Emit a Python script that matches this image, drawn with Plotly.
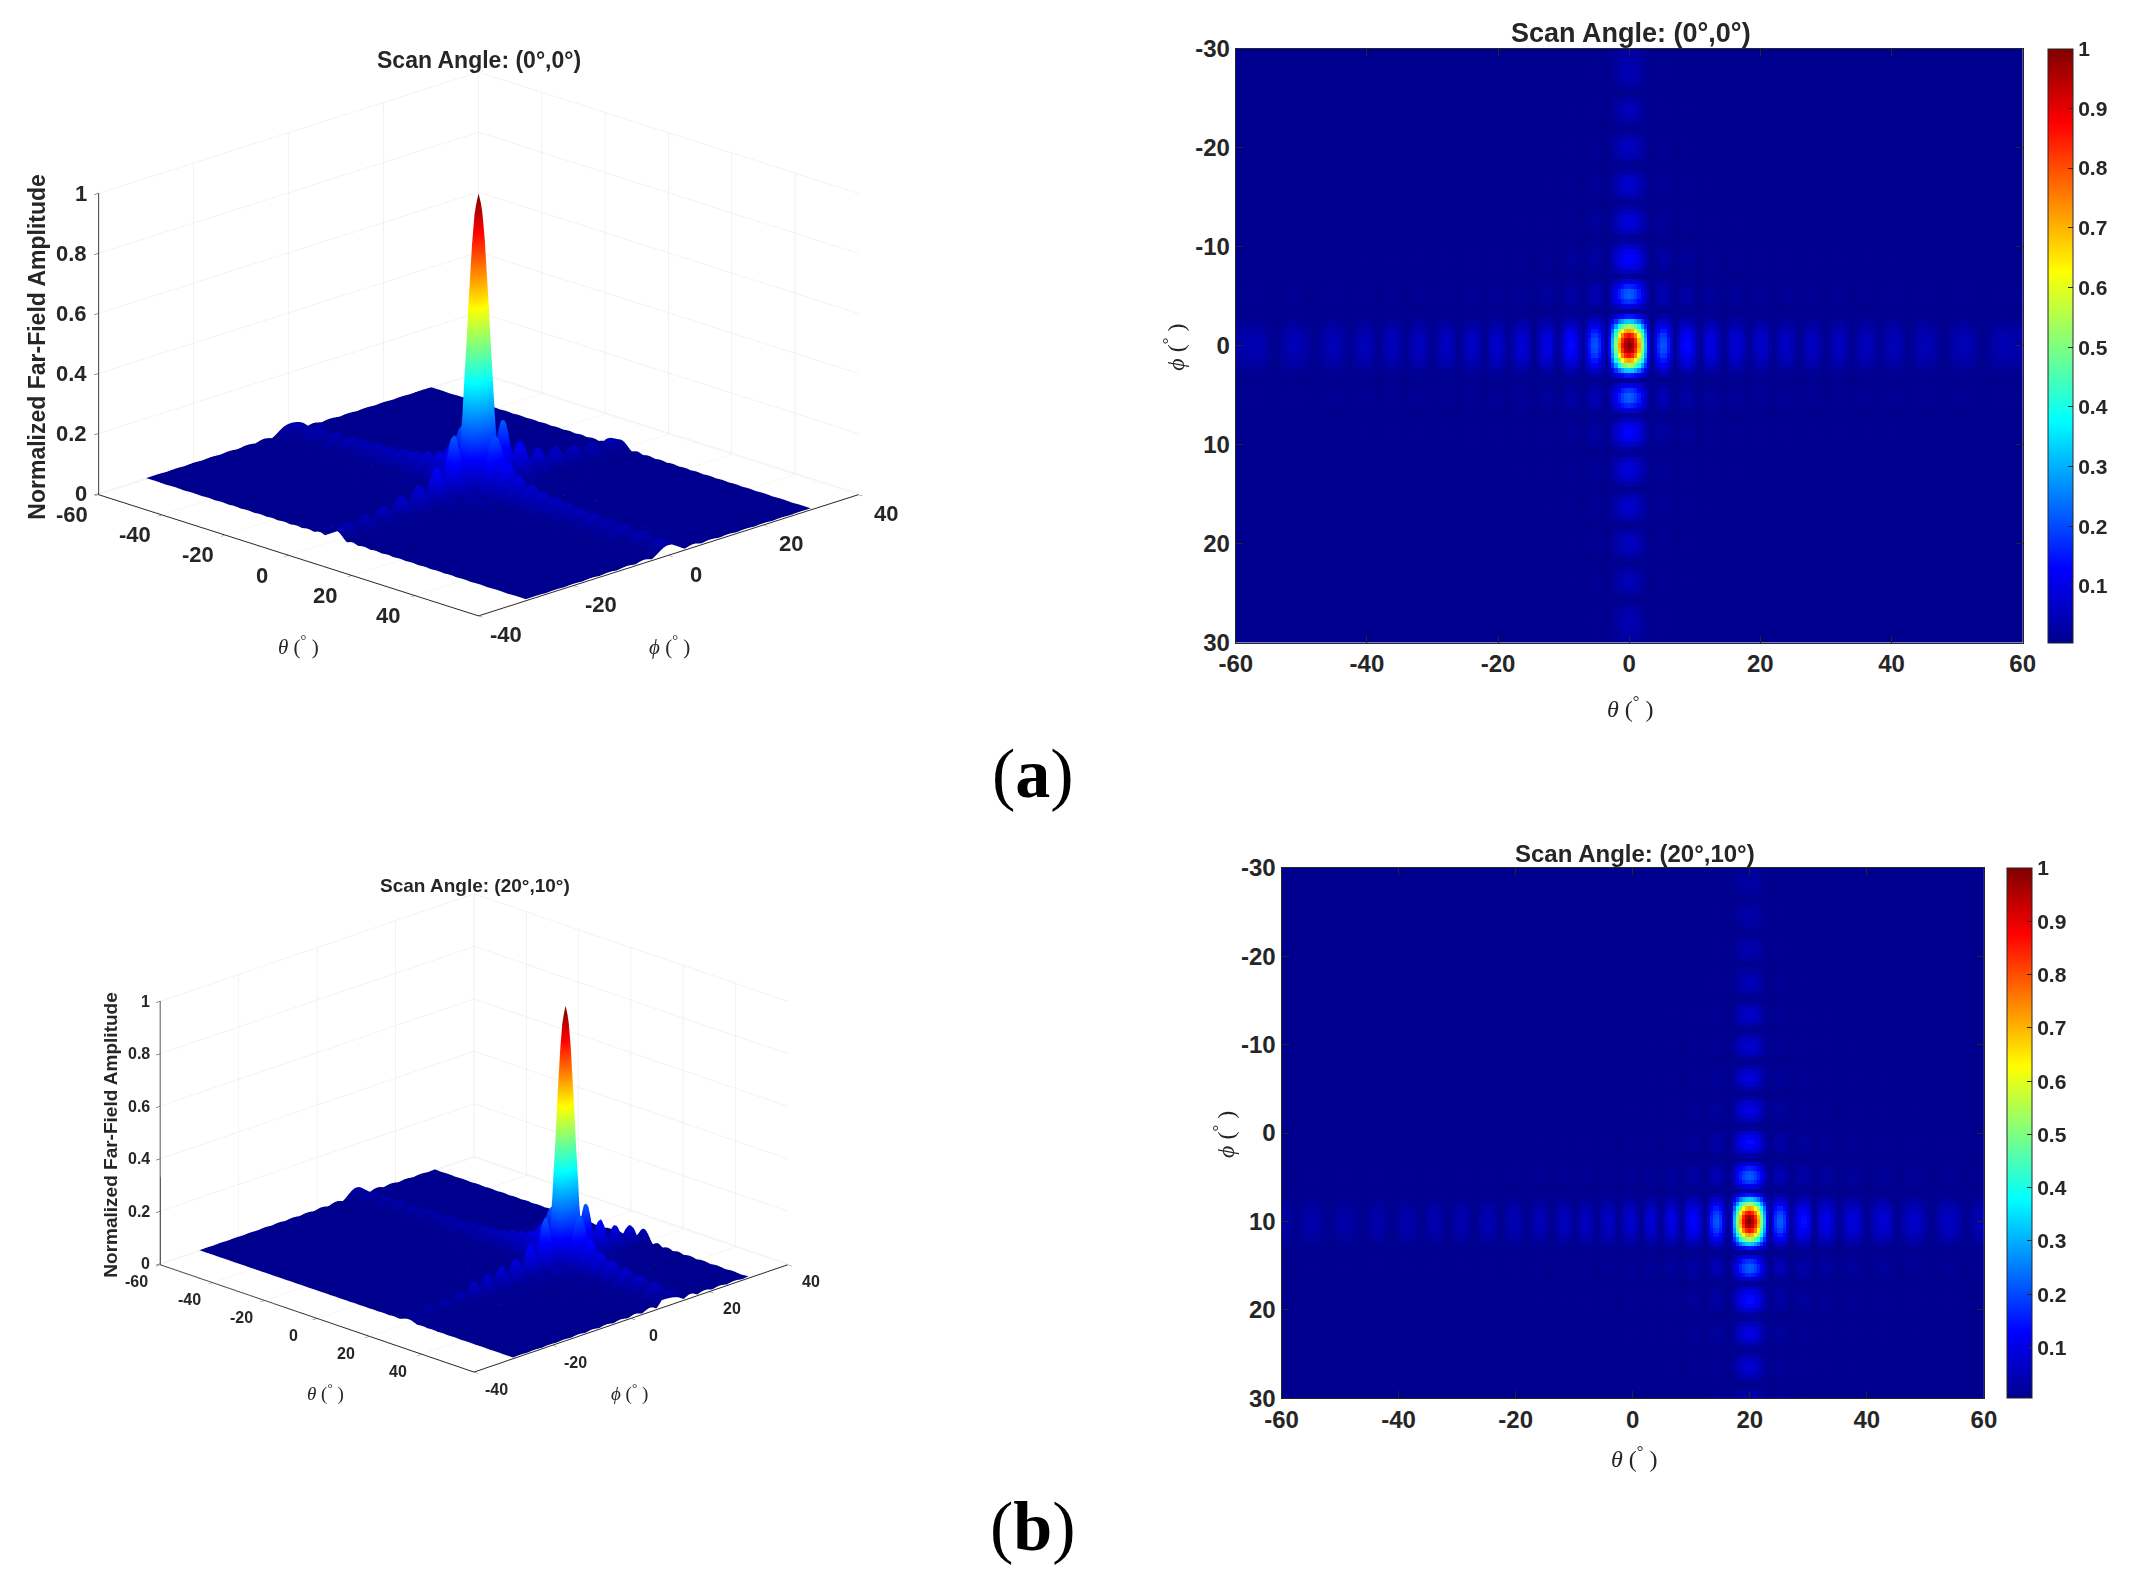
import numpy as np
import plotly.graph_objects as go

# amplitude cuts, 0.5 deg steps
# panel (a): cut through phi=0, from the beam outwards (it is the same on both sides)
theta_cut_a_half = [
    1.0, .965, .865, .71, .52, .32, .13, .02, .09, .17, .21, .205, .15, .08, .012, .06, .105, .13, .135, .115,
    .075, .03, .015, .06, .09, .10, .09, .065, .03, .006, .035, .065, .08, .085, .075, .05, .02, .012, .04, .062,
    .073, .072, .058, .03, .006, .025, .048, .063, .068, .062, .045, .02, .005, .025, .045, .058, .062, .056, .04, .018,
    .006, .022, .04, .053, .058, .055, .043, .024, .006, .02, .036, .048, .054, .054, .046, .03, .012, .012, .028, .042,
    .05, .052, .047, .036, .02, .006, .014, .027, .038, .046, .05, .05, .044, .034, .022, .01, .005, .012, .024, .034,
    .043, .048, .05, .048, .042, .033, .022, .01, .005, .01, .02, .03, .038, .043, .045, .044, .042, .04, .037, .034, .03]
phi_cut_a_half = [
    1.0, .965, .87, .72, .535, .335, .15, .015, .10, .18, .22, .215, .165, .09, .012, .065, .11, .13, .13, .11,
    .07, .025, .015, .055, .08, .09, .085, .06, .03, .006, .035, .06, .073, .074, .06, .035, .01, .015, .04, .055,
    .06, .056, .04, .018, .006, .022, .04, .05, .05, .04, .022, .006, .012, .03, .04, .045, .044, .04, .036, .032, .028]

# panel (b): cuts through the beam at (20, 10), left to right / top to bottom
theta_cut_b = [
    .035, .033, .028, .02, .012, .005, .012, .02, .027, .032, .035, .035, .032, .026, .018, .01, .004, .01, .018, .025,
    .031, .034, .035, .034, .03, .024, .016, .008, .004, .012, .022, .031, .038, .04, .037, .03, .02, .01, .004, .012,
    .024, .033, .039, .04, .036, .028, .018, .008, .004, .016, .028, .036, .04, .04, .035, .025, .013, .004, .014, .026,
    .035, .04, .04, .036, .026, .014, .004, .014, .028, .038, .044, .045, .04, .028, .014, .004, .014, .028, .038, .044,
    .045, .04, .028, .013, .004, .018, .033, .044, .05, .049, .04, .025, .008, .012, .03, .045, .054, .055, .046, .03,
    .008, .014, .036, .053, .06, .056, .04, .018, .006, .03, .05, .062, .065, .056, .036, .01, .018, .045, .065, .075,
    .073, .056, .028, .006, .04, .07, .085, .083, .064, .03, .008, .05, .082, .098, .098, .075, .035, .012, .07, .11,
    .13, .135, .12, .085, .04, .012, .08, .16, .205, .215, .18, .11, .03, .02, .13, .32, .52, .71, .865, .965,
    1.0, .965, .865, .71, .52, .32, .13, .02, .10, .175, .215, .22, .18, .11, .025, .04, .095, .125, .14, .14,
    .11, .065, .015, .03, .07, .095, .105, .105, .085, .055, .02, .012, .045, .07, .085, .09, .09, .08, .058, .03,
    .006, .02, .042, .06, .073, .08, .08, .075, .06, .04, .018, .006, .025, .042, .056, .066, .07, .068, .06, .048,
    .033, .018, .006, .012, .026, .04, .052, .061, .065, .062, .054, .043, .03, .016, .005, .012, .025, .036, .044, .05, .052]
phi_cut_b = [
    .01, .018, .025, .03, .03, .025, .015, .005, .015, .027, .034, .035, .03, .02, .008, .008, .022, .034, .04, .04,
    .032, .018, .005, .02, .036, .047, .05, .045, .03, .012, .012, .036, .058, .07, .066, .046, .018, .008, .038, .065,
    .08, .076, .055, .025, .006, .04, .072, .088, .09, .07, .035, .006, .03, .07, .095, .10, .085, .05, .012, .02,
    .075, .12, .14, .13, .09, .035, .01, .09, .16, .21, .22, .19, .11, .02, .15, .335, .535, .72, .87, .965,
    1.0, .965, .87, .72, .535, .335, .15, .015, .10, .18, .22, .215, .165, .08, .012, .065, .11, .135, .14, .12,
    .075, .028, .012, .055, .085, .10, .095, .07, .035, .006, .03, .06, .075, .08, .07, .045, .018, .006, .02, .035, .048]

theta_ticks = [-60, -40, -20, 0, 20, 40, 60]
theta_ticks_3d = [-60, -40, -20, 0, 20, 40]
phi_ticks_3d = [-40, -20, 0, 20, 40]
phi_ticks = [-30, -20, -10, 0, 10, 20, 30]
amp_ticks = [0, 0.2, 0.4, 0.6, 0.8, 1]
cbar_ticks = [0.1, 0.2, 0.3, 0.4, 0.5, 0.6, 0.7, 0.8, 0.9, 1]

W, H = 2129, 1589
TEXT = '#262626'
SANS = 'Liberation Sans'
SERIF = 'Liberation Serif'
jet = [[0, '#00008f'], [0.125, '#0000ff'], [0.375, '#00ffff'], [0.625, '#ffff00'], [0.875, '#ff0000'], [1, '#800000']]


# the page comes out shifted and a bit smaller than asked, so undo that here
def px_x(x):
    return (x - 24) / 0.991 / W


def px_y(y):
    return 1 - (y - 20) / 0.99 / H


def grid(theta_cut, phi_cut):
    theta = np.linspace(-60, 60, len(theta_cut))
    phi = np.linspace(-30, 30, len(phi_cut))
    return theta, phi, np.round(np.outer(phi_cut, theta_cut), 5)


def bold(vals):
    return ['<b>%g</b>' % v for v in vals]


def axis3d(rng, vals):
    return dict(range=rng, tickmode='array', tickvals=vals, showticklabels=False, title=dict(text=''),
                showgrid=True, gridcolor='#e6e6e6', gridwidth=1, showbackground=False, zeroline=False,
                showline=True, linecolor=TEXT, linewidth=2, ticks='outside', ticklen=6, tickcolor=TEXT,
                showspikes=False)


# tick labels of the 3d box sit further from the axes than plotly puts them, so they are scene annotations
def tick_notes(size, theta_shift, phi_shift, z_shift):
    font = dict(family=SANS, size=size, color=TEXT)
    notes = []
    for v in theta_ticks_3d:
        notes.append(dict(x=v, y=-40, z=0, text='<b>%g</b>' % v, showarrow=False, font=font,
                          xshift=theta_shift[0], yshift=theta_shift[1]))
    for v in phi_ticks_3d:
        notes.append(dict(x=60, y=v, z=0, text='<b>%g</b>' % v, showarrow=False, font=font,
                          xshift=phi_shift[0], yshift=phi_shift[1]))
    for v in amp_ticks:
        notes.append(dict(x=-60, y=-40, z=v, text='<b>%g</b>' % v, showarrow=False, font=font,
                          xanchor='right', xshift=z_shift))
    return notes


def add_panel(fig, name, theta, phi, z, box3d, ratio, zratio, eye, notes):
    fig.add_trace(go.Surface(x=theta, y=phi, z=z, colorscale=jet, cmin=0.005, cmax=1, showscale=False,
                             lighting=dict(ambient=1, diffuse=0, specular=0, roughness=1, fresnel=0),
                             scene=name))
    fig.update_layout({name: dict(
        domain=dict(x=[px_x(box3d[0]), px_x(box3d[2])], y=[px_y(box3d[3]), px_y(box3d[1])]),
        xaxis=axis3d([-60, 60], theta_ticks_3d),
        yaxis=axis3d([-40, 40], phi_ticks_3d),
        # floor a hair under zero, the flat part of the surface flickers against the floor grid otherwise
        zaxis=axis3d([-0.004, 1], amp_ticks),
        aspectmode='manual', aspectratio=dict(x=ratio, y=ratio, z=zratio * ratio),
        camera=dict(eye=dict(x=eye[0], y=-eye[0], z=eye[1]), center=dict(x=0, y=0, z=0),
                    up=dict(x=0, y=0, z=1), projection=dict(type='orthographic')),
        annotations=notes,
    )})


fig = go.Figure()

theta_a, phi_a, z_a = grid(theta_cut_a_half[::-1] + theta_cut_a_half[1:], phi_cut_a_half[::-1] + phi_cut_a_half[1:])
theta_b, phi_b, z_b = grid(theta_cut_b, phi_cut_b)

add_panel(fig, 'scene', theta_a, phi_a, z_a, (40, 26.5, 920, 662.5), 1.70, 0.592, (2, 0.952),
          tick_notes(22, (-27, -21), (27, -20), -10))
add_panel(fig, 'scene2', theta_b, phi_b, z_b, (117, 882, 833, 1396), 1.74, 0.632, (2, 1.03),
          tick_notes(16, (-23, -18), (23, -18), -8))

# heatmaps
for i, (theta, phi, z, box, bar_x) in enumerate([(theta_a, phi_a, z_a, (1241, 47, 2032, 645), 2057),
                                                 (theta_b, phi_b, z_b, (1287, 872, 1993, 1406), 2016)]):
    xa = 'x' if i == 0 else 'x2'
    ya = 'y' if i == 0 else 'y2'
    fig.add_trace(go.Heatmap(x=theta, y=phi, z=z, colorscale=jet, zmin=0.005, zmax=1, xaxis=xa, yaxis=ya,
                             colorbar=dict(x=px_x(bar_x), xanchor='left', xpad=0, ypad=0, thickness=25,
                                           thicknessmode='pixels', lenmode='fraction',
                                           len=(box[3] - box[1]) / H / 0.99, y=px_y((box[1] + box[3]) / 2), yanchor='middle',
                                           tickmode='array', tickvals=cbar_ticks, ticktext=bold(cbar_ticks),
                                           ticks='inside', ticklen=5, tickcolor=TEXT, outlinecolor=TEXT, outlinewidth=1,
                                           tickfont=dict(family=SANS, size=21, color=TEXT))))
    common = dict(showgrid=False, zeroline=False, showline=True, mirror='ticks', linecolor=TEXT, linewidth=1,
                  ticks='inside', ticklen=7, tickcolor=TEXT, tickfont=dict(family=SANS, size=24, color=TEXT),
                  tickmode='array')
    fig.update_layout({
        'xaxis' if i == 0 else 'xaxis2': dict(domain=[px_x(box[0]), px_x(box[2])], range=[-60, 60], anchor=ya,
                                              tickvals=theta_ticks, ticktext=bold(theta_ticks), **common),
        'yaxis' if i == 0 else 'yaxis2': dict(domain=[px_y(box[3]), px_y(box[1])], range=[30, -30], anchor=xa,
                                              tickvals=phi_ticks, ticktext=bold(phi_ticks), **common),
    })


def label(text, x, y, size, family=SANS, angle=0, color=TEXT):
    fig.add_annotation(text=text, x=px_x(x), y=px_y(y), xref='paper', yref='paper', showarrow=False,
                       xanchor='center', yanchor='middle', textangle=angle,
                       font=dict(family=family, size=size, color=color))


theta_label = '<i>θ</i> (<sup>°</sup> )'
phi_label = '<i>ϕ</i> (<sup>°</sup> )'
amp_label = '<b>Normalized Far-Field Amplitude</b>'

label('<b>Scan Angle: (0°,0°)</b>', 480, 58, 23)
label('<b>Scan Angle: (0°,0°)</b>', 1638, 31, 27)
label('<b>Scan Angle: (20°,10°)</b>', 476, 890, 19)
label('<b>Scan Angle: (20°,10°)</b>', 1642, 857, 24)
label(amp_label, 36, 347, 23, angle=-90)
label(amp_label, 110, 1141, 19, angle=-90)
label(theta_label, 299, 648, 21, SERIF)
label(phi_label, 672, 648, 21, SERIF)
label(theta_label, 326, 1400, 19, SERIF)
label(phi_label, 632, 1400, 19, SERIF)
label(theta_label, 1638, 710, 24, SERIF)
label(phi_label, 1179, 348, 24, SERIF, -90)
label(theta_label, 1642, 1465, 24, SERIF)
label(phi_label, 1229, 1140, 24, SERIF, -90)
label('(<b>a</b>)', 1037, 777, 70, SERIF, color='black')
label('(<b>b</b>)', 1037, 1535, 70, SERIF, color='black')

fig.update_layout(width=W, height=H, autosize=False, margin=dict(l=0, r=0, t=0, b=0),
                  paper_bgcolor='white', plot_bgcolor='white', showlegend=False)

fig.write_html("out.html")
